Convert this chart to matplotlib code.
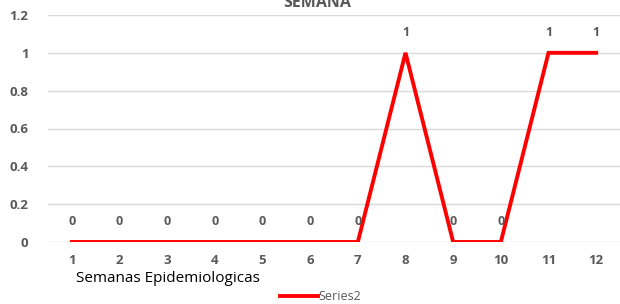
import numpy as np
import matplotlib
matplotlib.use("Agg")
from matplotlib import pyplot as plt
from matplotlib.lines import Line2D

semanas = [1, 2, 3, 4, 5, 6, 7, 8, 9, 10, 11, 12]
casos = [0, 0, 0, 0, 0, 0, 0, 1, 0, 0, 1, 1]
yticks = [0, 0.2, 0.4, 0.6, 0.8, 1, 1.2]
ytick_labels = ["0", "0.2", "0.4", "0.6", "0.8", "1", "1.2"]

plt.rcParams['font.family'] = ['Open Sans', 'DejaVu Sans']
grey = '#595959'

fig = plt.figure(figsize=(6.2, 3.04), dpi=100)
# plot area in pixels: x 48..620, y 15..242
ax = fig.add_axes([48/620, 1 - 242/304, 572/620, (242 - 15)/304])

ax.plot(semanas, casos, color='#ff0000', lw=2.8, solid_joinstyle='miter')
for x, y in zip(semanas, casos):
    ax.annotate(str(y), (x, y), xytext=(0, 15), textcoords='offset points',
                ha='center', va='center', fontsize=9, fontweight='bold', color=grey)

ax.set_xlim(0.5, 12.5)
ax.set_ylim(0, 1.2)
ax.set_yticks(yticks)
ax.set_yticklabels(ytick_labels)
ax.set_xticks(semanas)
ax.set_xticklabels([str(s) for s in semanas])
ax.tick_params(length=0, labelsize=9.5, labelcolor=grey)
ax.tick_params(axis='x', pad=9)
ax.tick_params(axis='y', pad=14)
for lab in ax.get_xticklabels() + ax.get_yticklabels():
    lab.set_fontweight('bold')
ax.grid(axis='y', color='#d9d9d9', lw=1)
ax.set_axisbelow(True)
for s in ax.spines.values():
    s.set_visible(False)

# title is cut off at the top edge in the reference
fig.text(317/620, 1 - 7/304, "SEMANA", ha='center', va='baseline',
         fontsize=11.5, fontweight='bold', color=grey)
fig.text(76/620, 1 - 278/304, "Semanas Epidemiologicas", ha='left', va='center',
         fontsize=11, color='black')

handle = Line2D([], [], color='#ff0000', lw=2.8)
fig.legend([handle], ["Series2"], loc='center left', bbox_to_anchor=(280/620, 1 - 297/304),
           frameon=False, fontsize=9, labelcolor=grey, handlelength=3.0,
           handletextpad=0.1, borderpad=0, borderaxespad=0)

plt.savefig("out.png", dpi=100)
